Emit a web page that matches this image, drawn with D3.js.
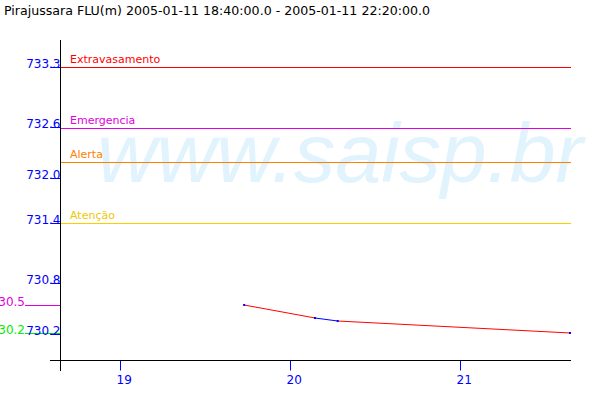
<!DOCTYPE html>
<html><head><meta charset="utf-8">
<script src="https://cdn.jsdelivr.net/npm/d3@7"></script>
<style>body{margin:0;background:#fff;overflow:hidden}</style>
</head><body><svg id="c" width="600" height="400"></svg>
<script>
// ---- data ----
const chartTitle = "Pirajussara FLU(m) 2005-01-11 18:40:00.0 - 2005-01-11 22:20:00.0";
const watermarkText = "www.saisp.br";
const times = ["2005-01-11 19:44", "2005-01-11 20:09", "2005-01-11 20:17", "2005-01-11 21:39"];
const levels = [730.531, 730.380, 730.345, 730.206];
const alertNames = ["Extravasamento", "Emergencia", "Alerta", "Atenção"];
const alertValues = [733.3, 732.59, 732.19, 731.48];
const yTickValues = [733.3, 732.6, 732.0, 731.48, 730.785, 730.2];
const yTickLabels = ["733.3", "732.6", "732.0", "731.4", "730.8", "730.2"];
const xTickValues = ["2005-01-11 19:00", "2005-01-11 20:00", "2005-01-11 21:00"];
const xTickLabels = ["19", "20", "21"];
const xDomain = ["2005-01-11 18:39", "2005-01-11 21:39"];
const yDomain = [730.2, 733.3];

(function () {
// ---- styles ----
const alertColor = d3.scaleOrdinal().domain(alertNames).range(["#ff0000", "#e000e0", "#ff8000", "#ffcc00"]);
const alertTextColor = d3.scaleOrdinal().domain(alertNames).range(["#ff0000", "#e000e0", "#ff8000", "#eec800"]);
const FONT = "'DejaVu Sans', sans-serif";

const parse = d3.timeParse("%Y-%m-%d %H:%M");
const svg = d3.select("#c");

const pLeft = 60, pRight = 571, pTop = 40, axisY = 360;
const x = d3.scaleTime().domain(xDomain.map(parse)).range([pLeft, 570]);
const y = d3.scaleLinear().domain(yDomain).range([333.5, 66.5]);

// watermark
svg.append("text")
  .attr("x", 97).attr("y", 182)
  .attr("font-family", "'Liberation Sans', Arial, sans-serif")
  .attr("font-style", "italic")
  .attr("font-size", 84)
  .attr("textLength", 486).attr("lengthAdjust", "spacingAndGlyphs")
  .attr("fill", "#e1f3fc")
  .text(watermarkText);

// title
svg.append("text")
  .attr("x", 4).attr("y", 15)
  .attr("font-family", FONT).attr("font-size", 12.6)
  .attr("fill", "#000")
  .text(chartTitle);

// alert level lines
const lv = svg.append("g");
alertNames.forEach((n, i) => {
  const yy = Math.round(y(alertValues[i])) + 0.5;
  lv.append("line").attr("x1", pLeft).attr("x2", pRight).attr("y1", yy).attr("y2", yy)
    .attr("stroke", alertColor(n)).attr("stroke-width", 1);
  lv.append("text").attr("x", 70).attr("y", yy - 5)
    .attr("font-family", FONT).attr("font-size", 11)
    .attr("fill", alertTextColor(n)).text(n);
});

// data
const data = times.map((t, i) => ({ t: parse(t), v: levels[i] }));
const seg = svg.append("g");
for (let i = 0; i < data.length - 1; i++) {
  const a = data[i], b = data[i + 1];
  const gapMin = (b.t - a.t) / 60000;
  seg.append("line")
    .attr("x1", x(a.t)).attr("y1", y(a.v)).attr("x2", x(b.t)).attr("y2", y(b.v))
    .attr("stroke", gapMin > 10 ? "#ff0000" : "#0000ff").attr("stroke-width", 1);
}
svg.append("g").selectAll("rect").data(data).join("rect")
  .attr("x", d => x(d.t) - 1).attr("y", d => y(d.v) - 1)
  .attr("width", 2).attr("height", 2).attr("fill", "#0000ff");

// max / min markers
const vmax = d3.max(levels), vmin = d3.min(levels);
[[vmax, "#e000e0"], [vmin, "#00ee00"]].forEach(([v, c]) => {
  const yy = Math.round(y(v)) + 0.5;
  svg.append("line").attr("x1", 25).attr("x2", pLeft).attr("y1", yy).attr("y2", yy)
    .attr("stroke", c).attr("stroke-width", 1);
  svg.append("text").attr("x", 25).attr("y", yy)
    .attr("text-anchor", "end")
    .attr("font-family", FONT).attr("font-size", 12)
    .attr("fill", c).text(d3.format(".1f")(v));
});

// y axis
const yAxis = d3.axisLeft(y).tickValues(yTickValues)
  .tickFormat((d, i) => yTickLabels[i]).tickSize(10).tickPadding(0);
const gy = svg.append("g").attr("transform", `translate(${pLeft + 0.5},0)`).call(yAxis);
gy.select(".domain").remove();
gy.selectAll(".tick").attr("transform", d => `translate(0,${Math.round(y(d)) + 0.5})`);
gy.selectAll(".tick line").attr("stroke", "#0000ff");
gy.selectAll(".tick text").attr("x", 0).attr("dy", null).attr("y", 0)
  .attr("fill", "#0000ff").attr("font-family", FONT).attr("font-size", 12)
  .attr("text-anchor", "end");

// x axis
const xAxis = d3.axisBottom(x).tickValues(xTickValues.map(parse))
  .tickFormat((d, i) => xTickLabels[i]).tickSize(10).tickPadding(0);
const gx = svg.append("g").attr("transform", `translate(0,${axisY + 0.5})`).call(xAxis);
gx.select(".domain").remove();
gx.selectAll(".tick").attr("transform", d => `translate(${Math.round(x(d)) + 0.5},0)`);
gx.selectAll(".tick line").attr("stroke", "#0000ff");
gx.selectAll(".tick text").attr("x", -4).attr("y", 23).attr("dy", null)
  .attr("text-anchor", "start")
  .attr("fill", "#0000ff").attr("font-family", FONT).attr("font-size", 12);

// axis lines
svg.append("line").attr("x1", pLeft + 0.5).attr("x2", pLeft + 0.5).attr("y1", pTop).attr("y2", 371)
  .attr("stroke", "#000").attr("stroke-width", 1);
svg.append("line").attr("x1", 50).attr("x2", pRight).attr("y1", axisY + 0.5).attr("y2", axisY + 0.5)
  .attr("stroke", "#000").attr("stroke-width", 1);
})();
</script></body></html>
